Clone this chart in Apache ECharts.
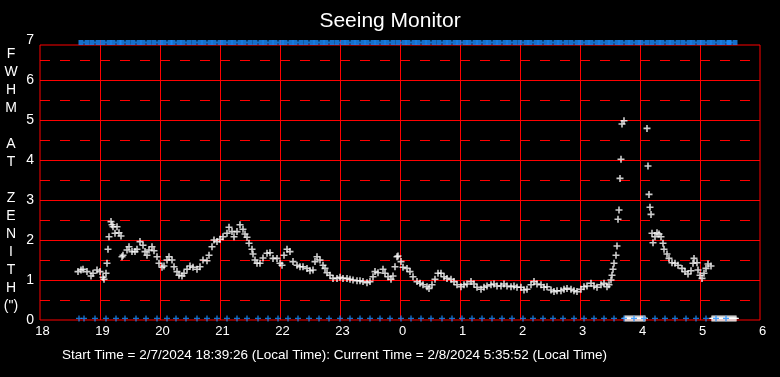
<!DOCTYPE html>
<html>
<head>
<meta charset="utf-8">
<title>Seeing Monitor</title>
<script src="https://cdn.jsdelivr.net/npm/echarts@6/dist/echarts.min.js"></script>
<style>
  html, body { margin: 0; padding: 0; background: #000; }
  #chart { width: 780px; height: 377px; }
</style>
</head>
<body>
<div id="chart"></div>
<script>
// x values are minutes after 18:00 local time (2/7/2024)
const hourLabels = ['18', '19', '20', '21', '22', '23', '0', '1', '2', '3', '4', '5', '6']
const yLabels = ['0', '1', '2', '3', '4', '5', '6', '7']

// FWHM at zenith (arcsec)
const fwhmPoints = [
  [38, 1.21], [41, 1.25], [43, 1.27], [47, 1.21], [51, 1.10], [53, 1.17], [57, 1.25], [60, 1.21],
  [63, 1.07], [64, 1.02], [66, 1.17], [67, 1.42], [68, 1.77], [69, 2.08], [71, 2.46], [72, 2.38],
  [73, 2.33], [75, 2.17], [77, 2.33], [79, 2.18], [81, 2.10], [82, 1.58], [83, 1.62], [87, 1.75],
  [89, 1.83], [92, 1.71], [95, 1.71], [97, 1.77], [100, 1.96], [103, 1.87], [105, 1.71], [107, 1.62],
  [109, 1.75], [112, 1.83], [114, 1.73], [117, 1.58], [119, 1.42], [122, 1.32], [124, 1.35], [127, 1.50],
  [129, 1.58], [132, 1.50], [134, 1.33], [137, 1.21], [139, 1.12], [142, 1.10], [144, 1.17], [147, 1.27],
  [150, 1.35], [153, 1.32], [157, 1.27], [160, 1.33], [163, 1.50], [167, 1.48], [169, 1.62], [172, 1.83],
  [174, 2.00], [177, 1.96], [180, 2.02], [183, 2.08], [187, 2.17], [189, 2.32], [192, 2.21], [194, 2.08],
  [197, 2.21], [200, 2.38], [203, 2.27], [205, 2.15], [207, 2.07], [209, 1.92], [212, 1.77], [213, 1.65],
  [215, 1.50], [217, 1.42], [220, 1.42], [223, 1.55], [227, 1.67], [230, 1.68], [233, 1.54], [237, 1.54],
  [240, 1.42], [242, 1.37], [244, 1.62], [247, 1.77], [250, 1.71], [253, 1.46], [257, 1.37], [260, 1.33],
  [263, 1.33], [267, 1.29], [270, 1.23], [273, 1.25], [275, 1.46], [277, 1.58], [280, 1.50], [283, 1.37],
  [285, 1.29], [287, 1.18], [290, 1.12], [293, 1.04], [297, 1.04], [300, 1.07], [303, 1.04], [307, 1.04],
  [310, 1.02], [313, 1.00], [317, 0.98], [320, 0.98], [323, 0.96], [327, 0.93], [330, 0.96], [333, 1.08],
  [335, 1.21], [338, 1.18], [343, 1.27], [345, 1.17], [348, 1.08], [351, 1.02], [353, 1.10], [355, 1.33],
  [357, 1.58], [358, 1.60], [361, 1.46], [363, 1.32], [367, 1.29], [370, 1.21], [373, 1.08], [377, 0.96],
  [380, 0.92], [383, 0.88], [387, 0.83], [389, 0.79], [392, 0.88], [395, 1.02], [398, 1.17], [401, 1.17],
  [404, 1.08], [407, 1.04], [411, 1.02], [414, 0.96], [417, 0.88], [421, 0.83], [424, 0.88], [427, 0.90],
  [431, 0.96], [434, 0.90], [437, 0.82], [441, 0.77], [444, 0.82], [447, 0.85], [451, 0.88], [454, 0.90],
  [457, 0.85], [461, 0.85], [464, 0.90], [467, 0.85], [471, 0.83], [474, 0.85], [477, 0.82], [481, 0.82],
  [484, 0.75], [487, 0.77], [491, 0.88], [494, 0.96], [497, 0.90], [501, 0.88], [504, 0.82], [507, 0.83],
  [511, 0.75], [514, 0.71], [517, 0.73], [521, 0.73], [524, 0.77], [527, 0.79], [531, 0.77], [534, 0.73],
  [537, 0.71], [541, 0.77], [544, 0.83], [547, 0.85], [551, 0.92], [554, 0.85], [557, 0.82], [561, 0.88],
  [564, 0.92], [567, 0.83], [569, 0.88], [571, 1.00], [572, 1.12], [573, 1.27], [574, 1.42], [576, 1.62],
  [577, 1.85], [578, 2.52], [579, 2.75], [580, 3.54], [581, 4.02], [582, 4.90], [584, 4.98],
  [607, 4.79], [608, 3.85], [609, 3.14], [610, 2.82], [611, 2.64], [612, 2.17], [613, 1.93], [615, 2.08],
  [617, 2.18], [619, 2.15], [621, 2.08], [623, 1.92], [624, 1.77], [627, 1.65], [629, 1.54], [632, 1.43],
  [635, 1.42], [638, 1.37], [642, 1.29], [645, 1.21], [648, 1.15], [651, 1.23], [653, 1.42], [654, 1.54],
  [657, 1.43], [658, 1.25], [660, 1.12], [662, 1.04], [664, 1.17], [666, 1.29], [668, 1.40], [671, 1.35]
]

// readings with no seeing value (drawn on the floor)
const zeroTimes = [
  585, 586, 587, 588, 589, 590, 591, 592, 593, 594, 595, 596, 597, 598, 599, 600, 601, 602, 603, 604, 605,
  672, 673, 674, 675, 676, 677, 678, 679, 680, 681, 682, 683, 684, 685, 686, 687, 688, 689, 690, 691, 692, 693, 694, 695, 696
]

// blue status marks along the floor and along the top
const floorTimes = [
  39, 44, 55, 66, 76, 85, 96, 106, 117, 127, 136, 146, 157, 167, 177, 187, 197, 207, 218, 228,
  238, 248, 258, 269, 279, 289, 300, 310, 320, 330, 340, 350, 361, 371, 381, 391, 402, 412, 422, 432,
  442, 452, 462, 472, 483, 493, 503, 513, 523, 534, 544, 554, 564, 574, 584, 594, 604, 615, 625, 635,
  646, 656, 666, 676, 686
]
const topTimes = [
  44, 55, 66, 76, 85, 96, 106, 117, 127, 136, 146, 157, 167, 177, 187, 197, 207, 218, 228,
  238, 248, 258, 269, 279, 289, 300, 310, 320, 330, 340, 350, 361, 371, 381, 391, 402, 412, 422, 432,
  442, 452, 462, 472, 483, 493, 503, 513, 523, 534, 544, 554, 564, 574, 584, 594, 604, 615, 625, 635,
  646, 656, 666, 676, 686, 692
]
const floorLevel = 0.04
const topLevel = 6.94
const frameTop = 6.875

const font = '"Liberation Sans", Arial, sans-serif'
const red = '#ff0000'
const blue = '#1a8cff'
const plus = 'path://M2.7,0h1.6v2.7h2.7v1.6h-2.7v2.7h-1.6v-2.7h-2.7v-1.6h2.7z'
const notched = 'path://M0,0H5V1.5H6V0H11V5H6V3.5H5V5H0Z'

const myChart = echarts.init(document.getElementById('chart'))

const option = {
  backgroundColor: '#000',
  animation: false,
  title: [
    {
      text: 'Seeing Monitor',
      left: 'center',
      top: 11,
      padding: 0,
      textStyle: { color: '#fff', fontSize: 21, fontWeight: 'normal', fontFamily: font }
    },
    {
      text: 'Start Time = 2/7/2024 18:39:26 (Local Time): Current Time = 2/8/2024 5:35:52 (Local Time)',
      left: 62,
      top: 348,
      padding: 0,
      textStyle: { color: '#fff', fontSize: 13.5, fontWeight: 'normal', fontFamily: font }
    }
  ],
  grid: { left: 40, right: 20, top: 40, bottom: 57 },
  xAxis: {
    type: 'value',
    min: 0,
    max: 720,
    interval: 60,
    axisLine: { show: false },
    axisTick: { show: false },
    axisLabel: {
      color: '#fff',
      fontSize: 13,
      fontFamily: font,
      margin: 5,
      padding: [0, 0, 0, 5],
      showMinLabel: true,
      showMaxLabel: true,
      formatter: (v) => hourLabels[Math.round(v / 60)]
    },
    splitLine: { show: true, showMinLine: false, showMaxLine: false, lineStyle: { color: red, width: 1 } }
  },
  yAxis: {
    type: 'value',
    min: 0,
    max: 7,
    interval: 1,
    name: 'F\nW\nH\nM\n\nA\nT\n\nZ\nE\nN\nI\nT\nH\n(")',
    nameLocation: 'middle',
    nameRotate: 0,
    nameGap: 29,
    nameTextStyle: {
      color: '#fff', fontSize: 14, lineHeight: 18, fontFamily: font,
      align: 'center', verticalAlign: 'middle'
    },
    axisLine: { show: false },
    axisTick: { show: false },
    axisLabel: {
      color: '#fff', fontSize: 14, fontFamily: font, margin: 6,
      formatter: (v) => yLabels[Math.round(v)]
    },
    splitLine: { show: true, showMinLine: false, showMaxLine: false, lineStyle: { color: red, width: 1 } },
    minorTick: { show: false, splitNumber: 2 },
    minorSplitLine: { show: true, lineStyle: { color: red, width: 1, type: [10, 10] } }
  },
  series: [
    {
      // plot frame
      type: 'scatter',
      data: [],
      silent: true,
      markArea: {
        silent: true,
        itemStyle: { color: 'rgba(0,0,0,0)', borderColor: red, borderWidth: 1 },
        data: [[{ coord: [0, 0] }, { coord: [720, frameTop] }]]
      }
    },
    {
      type: 'scatter',
      silent: true,
      symbol: notched,
      symbolSize: [11, 5],
      itemStyle: { color: blue },
      data: topTimes.map(t => [t, topLevel])
    },
    {
      type: 'scatter',
      silent: true,
      symbol: plus,
      symbolSize: 6,
      itemStyle: { color: '#fff' },
      data: zeroTimes.map(t => [t, floorLevel])
    },
    {
      type: 'scatter',
      silent: true,
      symbol: plus,
      symbolSize: 6,
      itemStyle: { color: blue },
      data: floorTimes.map(t => [t, floorLevel])
    },
    {
      type: 'scatter',
      silent: true,
      symbol: plus,
      symbolSize: 7,
      itemStyle: { color: '#fff' },
      data: fwhmPoints
    }
  ]
}

myChart.setOption(option)
window.addEventListener('resize', myChart.resize)
</script>
</body>
</html>
